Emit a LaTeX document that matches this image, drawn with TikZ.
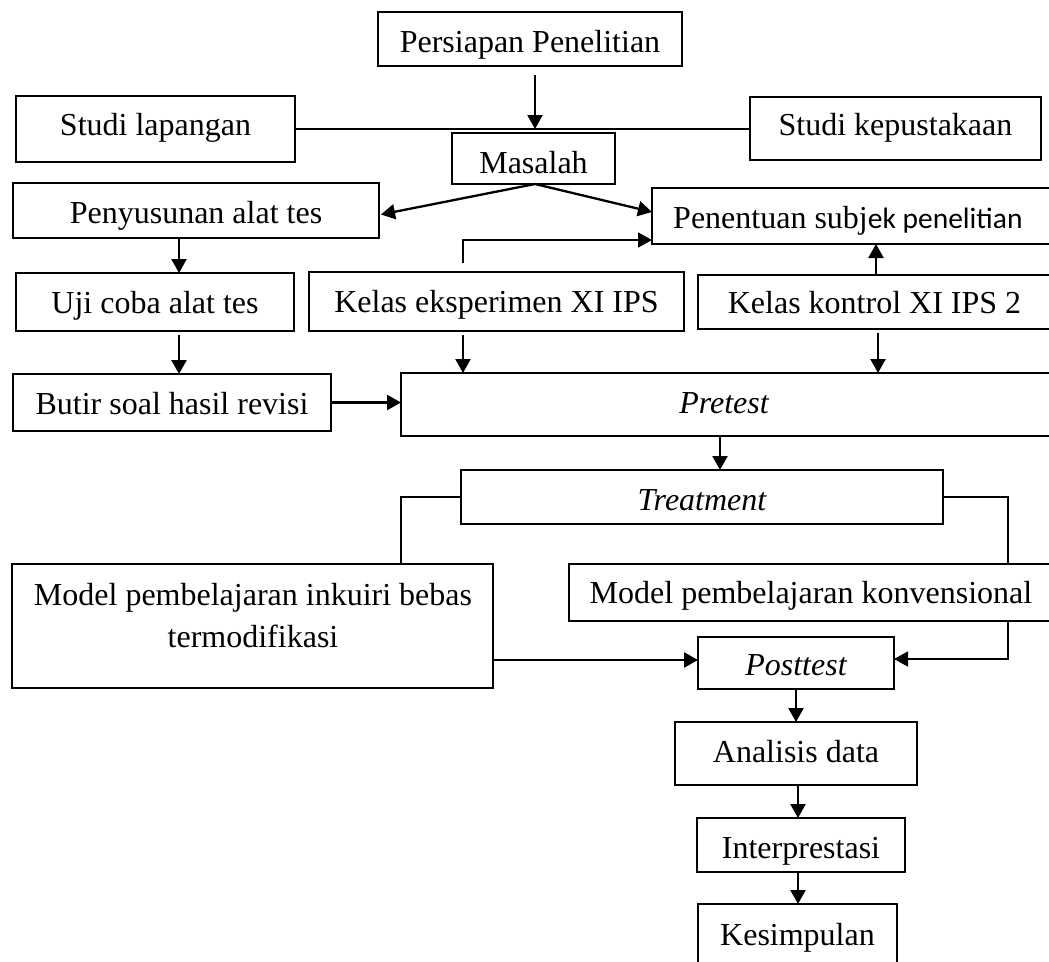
\documentclass[tikz,border=0pt]{standalone}
\usepackage{fontspec}
\setmainfont{Liberation Serif}
\newfontfamily\calibrifont{Carlito}
\usetikzlibrary{arrows.meta,calc}
\begin{document}
\begin{tikzpicture}[x=1pt,y=-1pt,
  every node/.style={font=\fontsize{32}{40}\selectfont},
  box/.style={draw, line width=2.3pt, inner sep=0pt, outer sep=0pt, anchor=center},
  bo/.style={text height=#1, text depth=0pt},
  txt/.style={inner sep=0pt, anchor=base},
  conn/.style={line width=2.3pt, -{Triangle[length=14pt,width=15pt]}},
  thinline/.style={line width=1.2pt},
]
\useasboundingbox (0,0) rectangle (1049,961);
\clip (0,0) rectangle (1049,961);

% boxes
\node[box, bo=26pt, minimum width=304pt, minimum height=54pt] (persiapan) at (530,39) {Persiapan Penelitian};
\node[box, bo=12pt, minimum width=279pt, minimum height=66pt] (lapangan) at (155.5,129) {Studi lapangan};
\node[box, bo=13pt, minimum width=291pt, minimum height=63pt] (kepustakaan) at (895.5,128.5) {Studi kepustakaan};
\node[box, bo=29pt, minimum width=163pt, minimum height=51pt] (masalah) at (533.5,158.5) {Masalah};
\node[box, bo=25pt, minimum width=366pt, minimum height=55pt] (penyusunan) at (196,210.5) {Penyusunan alat tes};
\node[box, minimum width=418pt, minimum height=56pt] (penentuan) at (861,216) {};
\node[txt, anchor=base west] (penentuan-t) at (673,228.5) {Penentuan subj{\calibrifont\fontsize{29.5}{35}\selectfont ek penelitian}};
\node[box, bo=22pt, minimum width=278pt, minimum height=58pt] (uji) at (155,302) {Uji coba alat tes};
\node[box, bo=21pt, minimum width=375pt, minimum height=59pt] (eksp) at (496.5,301.5) {Kelas eksperimen XI IPS};
\node[box, minimum width=372pt, minimum height=54pt] (kontrol) at (884,302) {};
\node[txt] (kontrol-t) at (874.5,313) {Kelas kontrol XI IPS 2};
\node[box, bo=23pt, minimum width=318pt, minimum height=57pt] (butir) at (172,402.5) {Butir soal hasil revisi};
\node[box, minimum width=669pt, minimum height=63pt] (pretest) at (735.5,404.5) {};
\node[txt] (pretest-t) at (724,413) {\itshape Pretest};
\node[box, bo=26pt, minimum width=482pt, minimum height=54pt] (treatment) at (702,497) {\itshape Treatment};
\node[box, minimum width=481pt, minimum height=124pt] (inkuiri) at (252.5,626) {};
\node[txt] (inkuiri-t1) at (253,605) {Model pembelajaran inkuiri bebas};
\node[txt] (inkuiri-t2) at (253,647) {termodifikasi};
\node[box, minimum width=501pt, minimum height=57pt] (konv) at (819.5,592.5) {};
\node[txt] (konv-t) at (811,603) {Model pembelajaran konvensional};
\node[box, bo=24pt, minimum width=196pt, minimum height=52pt] (posttest) at (796,663) {\itshape Posttest};
\node[box, bo=17pt, minimum width=242pt, minimum height=63pt] (analisis) at (796,753.5) {Analisis data};
\node[box, bo=26pt, minimum width=208pt, minimum height=54pt] (interp) at (801,845) {Interprestasi};
\node[box, minimum width=199pt, minimum height=80pt] (kesimpulan) at (797.5,944) {};
\node[txt] (kesimpulan-t) at (797.5,945) {Kesimpulan};

% connectors
\coordinate (jn) at ($(masalah.north)+(1.5,-4)$);
\draw[line width=2.3pt] (lapangan.east) -- (lapangan.east -| kepustakaan.west);
\draw[conn] ($(persiapan.south)+(5,9)$) -- (jn);
\draw[conn] ($(masalah.south)+(1.5,0)$) -- ($(penyusunan.east)+(2,4)$);
\draw[conn] ($(masalah.south)+(1.5,0)$) -- ($(penentuan.west)+(0,-4)$);
\draw[conn, line width=1.8pt] ($(eksp.north west)+(154,-9)$) |- ($(penentuan.west)+(0,24)$);
\draw[conn] ($(kontrol.north west)+(178,0)$) -- ($(penentuan.south west)+(224,0)$);
\draw[conn] ($(penyusunan.south)+(-17,0)$) -- ($(uji.north)+(24,0)$);
\draw[conn] ($(uji.south)+(24,4)$) -- ($(butir.north)+(7,0)$);
\draw[conn] ($(eksp.south)+(-33.5,4)$) -- ($(pretest.north west)+(62,0)$);
\draw[conn] ($(kontrol.south west)+(180,4)$) -- ($(pretest.north west)+(477,0)$);
\draw[conn] (butir.east) -- (butir.east -| pretest.west);
\draw[conn] ($(pretest.south west)+(319,0)$) -- ($(treatment.north)+(18,0)$);
\draw[thinline] (treatment.west) -| ($(inkuiri.north)+(148.5,0)$);
\draw[thinline] (treatment.east) -| ($(konv.north west)+(439,0)$);
\draw[conn, line width=1.6pt] ($(konv.south west)+(439,0)$) |- ($(posttest.east)+(0,-4)$);
\coordinate (pw) at ($(posttest.west)+(0,-3)$);
\draw[conn] (inkuiri.east |- pw) -- (pw);
\draw[conn] (posttest.south) -- (analisis.north);
\draw[conn] ($(analisis.south)+(2,0)$) -- ($(interp.north)+(-3,0)$);
\draw[conn] ($(interp.south)+(-3,0)$) -- ($(kesimpulan.north)+(0.5,0)$);
\end{tikzpicture}
\end{document}
